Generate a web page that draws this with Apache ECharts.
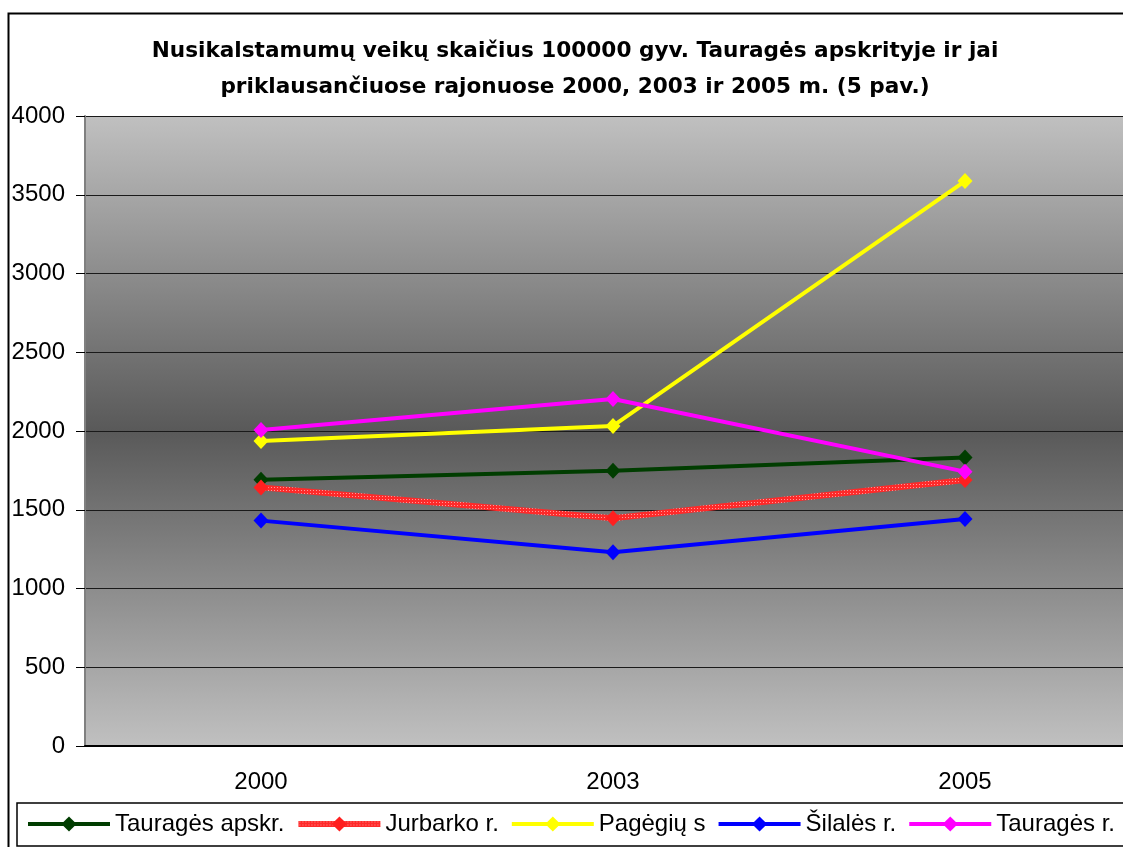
<!DOCTYPE html>
<html>
<head>
<meta charset="utf-8">
<title>Nusikalstamumų veikų skaičius</title>
<script src="https://cdn.jsdelivr.net/npm/echarts@6/dist/echarts.min.js"></script>
<style>
  html, body { margin: 0; padding: 0; background: #fff; overflow: hidden; }
  /* diagrama platesnė už langą - dešinys kraštas nukirptas kaip originale */
  #main { width: 1170px; height: 847px; }
</style>
</head>
<body>
<div id="main"></div>
<script>
// duomenys
var years = ['2000', '2003', '2005'];
var seriesNames = ['Tauragės apskr.', 'Jurbarko r.', 'Pagėgių s', 'Šilalės r.', 'Tauragės r.'];
var tauragesApskr = [1690, 1748, 1831];
var jurbarko = [1642, 1446, 1689];
var pagegiu = [1937, 2032, 3587];
var silales = [1431, 1230, 1441];
var tauragesR = [2006, 2203, 1742];
var yTicks = [0, 500, 1000, 1500, 2000, 2500, 3000, 3500, 4000];

var colors = ['#003d00', '#ff2020', '#ffff00', '#0000ff', '#ff00ff'];

// raštuota raudona linija (Jurbarko r.)
function redPattern() {
  var c = document.createElement('canvas');
  c.width = 3;
  c.height = 3;
  var ctx = c.getContext('2d');
  ctx.fillStyle = '#ff2a2a';
  ctx.fillRect(0, 0, 3, 3);
  ctx.fillStyle = '#ff9a9a';
  ctx.fillRect(1, 1, 1, 1);
  return { image: c, repeat: 'repeat' };
}

function makeLine(name, values, color, width, lineColor) {
  return {
    name: name,
    type: 'line',
    data: values,
    symbol: 'diamond',
    symbolSize: [15, 16],
    lineStyle: { color: lineColor || color, width: width },
    itemStyle: { color: color },
    emphasis: { disabled: true }
  };
}

function initChart(chart) {
  var option = {
    animation: false,
    title: {
      text: 'Nusikalstamumų veikų skaičius 100000 gyv. Tauragės apskrityje ir jai\npriklausančiuose rajonuose 2000, 2003 ir 2005 m. (5 pav.)',
      left: 575,
      top: 33,
      textAlign: 'center',
      padding: 0,
      textStyle: {
        fontFamily: 'DejaVu Sans',
        fontWeight: 'bold',
        fontSize: 21.6,
        lineHeight: 36,
        color: '#000'
      }
    },
    legend: {
      data: seriesNames,
      left: 17,
      top: 803,
      padding: [8, 9, 9, 9],
      itemWidth: 82,
      itemHeight: 19,
      itemGap: 11,
      borderColor: '#000',
      borderWidth: 1.5,
      lineStyle: { width: 'inherit' },
      textStyle: {
        fontFamily: 'Liberation Sans',
        fontSize: 24,
        lineHeight: 26,
        color: '#000'
      }
    },
    grid: {
      left: 85,
      top: 116,
      width: 1056,
      height: 630,
      show: true,
      borderWidth: 0,
      backgroundColor: {
        type: 'linear', x: 0, y: 0, x2: 0, y2: 1,
        colorStops: [
          { offset: 0, color: '#c0c0c0' },
          { offset: 0.5, color: '#595959' },
          { offset: 1, color: '#c0c0c0' }
        ]
      }
    },
    xAxis: {
      type: 'category',
      data: years,
      boundaryGap: true,
      axisLine: { lineStyle: { color: '#000', width: 2 } },
      axisTick: { length: 9, lineStyle: { color: '#000' } },
      axisLabel: {
        margin: 24,
        fontFamily: 'Liberation Sans',
        fontSize: 24,
        color: '#000'
      }
    },
    yAxis: {
      type: 'value',
      min: yTicks[0],
      max: yTicks[yTicks.length - 1],
      interval: 500,
      axisLine: { show: true, lineStyle: { color: '#808080', width: 2 } },
      axisTick: { show: true, length: 9, lineStyle: { color: '#000' } },
      axisLabel: {
        margin: 20,
        fontFamily: 'Liberation Sans',
        fontSize: 24,
        color: '#000',
        formatter: function (v) { return String(v); }
      },
      splitLine: { lineStyle: { color: '#1a1a1a', width: 1 } }
    },
    series: [
      makeLine(seriesNames[0], tauragesApskr, colors[0], 4),
      makeLine(seriesNames[1], jurbarko, colors[1], 6, redPattern()),
      makeLine(seriesNames[2], pagegiu, colors[2], 4),
      makeLine(seriesNames[3], silales, colors[3], 4),
      makeLine(seriesNames[4], tauragesR, colors[4], 4)
    ],
    // išorinis rėmelis
    graphic: [{
      type: 'rect',
      left: 6,
      top: 11,
      shape: { x: 0, y: 0, width: 1150, height: 850 },
      style: { fill: 'none', stroke: '#000', lineWidth: 2 },
      silent: true
    }]
  };
  chart.setOption(option);
  return chart;
}

var chart = echarts.init(document.getElementById('main'), null, { renderer: 'canvas' });
initChart(chart);
</script>
</body>
</html>
